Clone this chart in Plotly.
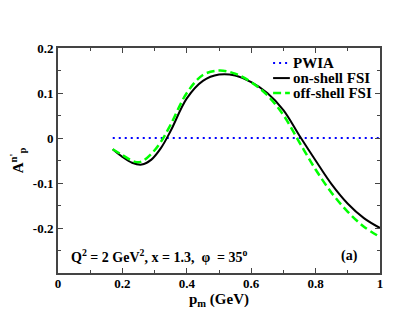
import plotly.graph_objects as go

pm_on = [0.17, 0.20, 0.23, 0.26, 0.29, 0.32, 0.35, 0.40, 0.45, 0.50, 0.55,
         0.60, 0.65, 0.70, 0.75, 0.80, 0.85, 0.90, 0.95, 1.00]
a_on = [-0.025, -0.042, -0.055, -0.059, -0.048, -0.022, 0.016, 0.088, 0.127,
        0.141, 0.139, 0.124, 0.100, 0.062, 0.005, -0.050, -0.103, -0.146,
        -0.178, -0.200]

pm_off = [0.17, 0.20, 0.24, 0.26, 0.29, 0.32, 0.35, 0.40, 0.45, 0.50, 0.55,
          0.60, 0.65, 0.70, 0.75, 0.80, 0.85, 0.90, 0.95, 1.00]
a_off = [-0.025, -0.038, -0.053, -0.052, -0.035, -0.008, 0.030, 0.100, 0.140,
         0.150, 0.143, 0.124, 0.095, 0.051, -0.010, -0.070, -0.122, -0.164,
         -0.197, -0.220]

pm_pwia = [0.17, 1.00]
a_pwia = [0.0, 0.0]

x_ticks = [0, 0.2, 0.4, 0.6, 0.8, 1.0]
x_labels = ["0", "0.2", "0.4", "0.6", "0.8", "1"]
y_ticks = [-0.2, -0.1, 0, 0.1, 0.2]
y_labels = ["-0.2", "-0.1", "0", "0.1", "0.2"]

font = "Times New Roman, Liberation Serif, DejaVu Serif, serif"

styles = [
    ("PWIA", dict(color="#0000ff", width=2, dash="2px,4px")),
    ("on-shell FSI", dict(color="black", width=2)),
    ("off-shell FSI", dict(color="#00ff00", width=2.5, dash="8px,4px")),
]

fig = go.Figure()
fig.add_trace(go.Scatter(x=pm_pwia, y=a_pwia, mode="lines", name=styles[0][0],
                         line=styles[0][1]))
fig.add_trace(go.Scatter(x=pm_on, y=a_on, mode="lines", name=styles[1][0],
                         line=dict(styles[1][1], shape="spline")))
fig.add_trace(go.Scatter(x=pm_off, y=a_off, mode="lines", name=styles[2][0],
                         line=dict(styles[2][1], shape="spline")))

# legend drawn by hand so the rows sit as tight as in the original
for i, (label, line) in enumerate(styles):
    yy = 0.933 - i * 0.0667
    fig.add_shape(type="line", xref="paper", yref="paper", x0=0.668, x1=0.72,
                  y0=yy, y1=yy, line=line)
    fig.add_annotation(x=0.725, y=yy, xref="paper", yref="paper", xanchor="left",
                       yanchor="middle", showarrow=False, text="<b>%s</b>" % label,
                       font=dict(family=font, size=15, color="black"))

axis_style = dict(
    showline=True, linecolor="#444", linewidth=2, mirror="ticks",
    ticks="inside", ticklen=5, tickwidth=1, tickcolor="#444",
    showgrid=False, zeroline=False, automargin=False,
    tickfont=dict(family=font, size=13, color="black"),
)

fig.update_xaxes(range=[0, 1], tickvals=x_ticks, ticktext=["<b>%s</b>" % t for t in x_labels],
                 minor=dict(dtick=0.1, ticks="inside", ticklen=3, tickcolor="#444"),
                 ticklabelstandoff=-3,
                 title=dict(text="<b>p<sub>m</sub> (GeV)</b>", font=dict(family=font, size=15, color="black"),
                            standoff=0),
                 **axis_style)
fig.update_yaxes(range=[-0.3, 0.2], tickvals=y_ticks, ticktext=["<b>%s</b>" % t for t in y_labels],
                 minor=dict(dtick=0.05, ticks="inside", ticklen=3, tickcolor="#444"),
                 title=dict(text="<b>A<sup>n'</sup><sub>p</sub></b>", font=dict(family=font, size=15, color="black"),
                            standoff=8),
                 **axis_style)

fig.add_annotation(x=0.035, y=-0.262, xref="x", yref="y", xanchor="left", showarrow=False,
                   text="<b>Q<sup>2</sup> = 2 GeV<sup>2</sup>, x = 1.3,  \u03c6  = 35<sup>o</sup></b>",
                   font=dict(family=font, size=14, color="black"))
fig.add_annotation(x=0.905, y=-0.262, xref="x", yref="y", showarrow=False,
                   text="<b>(a)</b>", font=dict(family=font, size=14, color="black"))

# the page body has an 8px margin, so the figure is 8px smaller and shifted
fig.update_layout(
    width=409, height=314,
    margin=dict(l=50, r=37, t=40, b=49),
    plot_bgcolor="white", paper_bgcolor="white",
    showlegend=False,
)

fig.write_html("out.html")
